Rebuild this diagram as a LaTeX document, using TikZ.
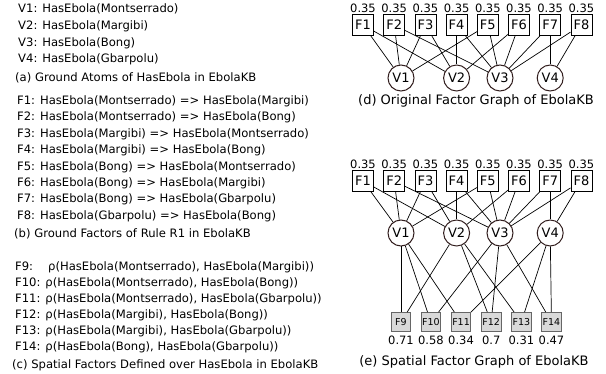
\documentclass[tikz,border=0pt]{standalone}
\usepackage{fontspec}
\setmainfont{DejaVu Sans}
\usepackage{tikz}
\usetikzlibrary{positioning}

\definecolor{atomline}{RGB}{50,30,30}

\begin{document}
\begin{tikzpicture}[x=1pt, y=-1pt,
        txt/.style={anchor=west, inner sep=0pt, font=\fontsize{11.6}{14}\selectfont},
        caption/.style={inner sep=0pt, font=\fontsize{13}{15}\selectfont},
        factor/.style={rectangle, draw=black, line width=0.8pt, minimum width=21pt, minimum height=21pt, inner sep=1pt, font=\fontsize{13}{15}\selectfont},
        atom/.style={circle, draw=atomline, line width=1pt, minimum size=26pt, inner sep=0pt, font=\fontsize{13}{15}\selectfont},
        spatial/.style={rectangle, draw=black!60, line width=0.8pt, fill=black!15, minimum width=19pt, minimum height=19pt, inner sep=1pt, font=\fontsize{9.5}{10}\selectfont},
        weight/.style={inner sep=1pt, font=\fontsize{11.5}{13}\selectfont},
        edge/.style={line width=0.7pt}
      ]
        \useasboundingbox (0,0) rectangle (606,374);

        % (a) ground atoms
        \node[txt] (a1) at (18,9)  {V1: HasEbola(Montserrado)};
        \node[txt] (a2) at (18,26) {V2: HasEbola(Margibi)};
        \node[txt] (a3) at (18,43) {V3: HasEbola(Bong)};
        \node[txt] (a4) at (18,59) {V4: HasEbola(Gbarpolu)};
        \node[txt] (acap) at (15,78) {(a) Ground Atoms of HasEbola in EbolaKB};

        % (b) ground factors of R1
        \node[txt] (b1) at (17,101) {F1: HasEbola(Montserrado) => HasEbola(Margibi)};
        \node[txt] (b2) at (17,117) {F2: HasEbola(Montserrado) => HasEbola(Bong)};
        \node[txt] (b3) at (17,134) {F3: HasEbola(Margibi) => HasEbola(Montserrado)};
        \node[txt] (b4) at (17,150) {F4: HasEbola(Margibi) => HasEbola(Bong)};
        \node[txt] (b5) at (17,167) {F5: HasEbola(Bong) => HasEbola(Montserrado)};
        \node[txt] (b6) at (17,183) {F6: HasEbola(Bong) => HasEbola(Margibi)};
        \node[txt] (b7) at (17,199) {F7: HasEbola(Bong) => HasEbola(Gbarpolu)};
        \node[txt] (b8) at (17,216) {F8: HasEbola(Gbarpolu) => HasEbola(Bong)};
        \node[txt] (bcap) at (14,234) {(b) Ground Factors of Rule R1 in EbolaKB};

        % (c) spatial factors
        \node[txt] (c9)  at (15,267) {F9:\hspace{15pt}ρ(HasEbola(Montserrado), HasEbola(Margibi))};
        \node[txt] (c10) at (15,283) {F10: ρ(HasEbola(Montserrado), HasEbola(Bong))};
        \node[txt] (c11) at (15,299) {F11: ρ(HasEbola(Montserrado), HasEbola(Gbarpolu))};
        \node[txt] (c12) at (15,315) {F12: ρ(HasEbola(Margibi), HasEbola(Bong))};
        \node[txt] (c13) at (15,331) {F13: ρ(HasEbola(Margibi), HasEbola(Gbarpolu))};
        \node[txt] (c14) at (15,347) {F14: ρ(HasEbola(Bong), HasEbola(Gbarpolu))};
        \node[txt] (ccap) at (12,365) {(c) Spatial Factors Defined over HasEbola in EbolaKB};

        % (d) original factor graph
        \node[factor] (of1) at (363,25)         [label={[weight]above:0.35}] {F1};
        \node[factor] (of2) [right=9.4pt of of1, label={[weight]above:0.35}] {F2};
        \node[factor] (of3) [right=9.4pt of of2, label={[weight]above:0.35}] {F3};
        \node[factor] (of4) [right=9.4pt of of3, label={[weight]above:0.35}] {F4};
        \node[factor] (of5) [right=9.4pt of of4, label={[weight]above:0.35}] {F5};
        \node[factor] (of6) [right=9.4pt of of5, label={[weight]above:0.35}] {F6};
        \node[factor] (of7) [right=9.4pt of of6, label={[weight]above:0.35}] {F7};
        \node[factor] (of8) [right=9.4pt of of7, label={[weight]above:0.35}] {F8};

        \node[atom] (ov1) at (401,78) {V1};
        \node[atom] (ov2) at (of4 |- ov1) {V2};
        \node[atom] (ov3) at (500,78) {V3};
        \node[atom] (ov4) at (of7 |- ov1) {V4};

        \draw[edge] (of1) -- (ov1);  \draw[edge] (of1) -- (ov2);
        \draw[edge] (of2) -- (ov1);  \draw[edge] (of2) -- (ov3);
        \draw[edge] (of3) -- (ov2);  \draw[edge] (of3) -- (ov1);
        \draw[edge] (of4) -- (ov2);  \draw[edge] (of4) -- (ov3);
        \draw[edge] (of5) -- (ov3);  \draw[edge] (of5) -- (ov1);
        \draw[edge] (of6) -- (ov3);  \draw[edge] (of6) -- (ov2);
        \draw[edge] (of7) -- (ov3);  \draw[edge] (of7) -- (ov4);
        \draw[edge] (of8) -- (ov4);  \draw[edge] (of8) -- (ov3);

        \node[caption] (dcap) at (476,101) {(d) Original Factor Graph of EbolaKB};

        % (e) spatial factor graph
        \node[factor] (sf1) at (363,181)        [label={[weight]above:0.35}] {F1};
        \node[factor] (sf2) [right=9.4pt of sf1, label={[weight]above:0.35}] {F2};
        \node[factor] (sf3) [right=9.4pt of sf2, label={[weight]above:0.35}] {F3};
        \node[factor] (sf4) [right=9.4pt of sf3, label={[weight]above:0.35}] {F4};
        \node[factor] (sf5) [right=9.4pt of sf4, label={[weight]above:0.35}] {F5};
        \node[factor] (sf6) [right=9.4pt of sf5, label={[weight]above:0.35}] {F6};
        \node[factor] (sf7) [right=9.4pt of sf6, label={[weight]above:0.35}] {F7};
        \node[factor] (sf8) [right=9.4pt of sf7, label={[weight]above:0.35}] {F8};

        \node[atom] (sv1) at (401,233) {V1};
        \node[atom] (sv2) at (sf4 |- sv1) {V2};
        \node[atom] (sv3) at (500,233) {V3};
        \node[atom] (sv4) at (sf7 |- sv1) {V4};

        \draw[edge] (sf1) -- (sv1);  \draw[edge] (sf1) -- (sv2);
        \draw[edge] (sf2) -- (sv1);  \draw[edge] (sf2) -- (sv3);
        \draw[edge] (sf3) -- (sv2);  \draw[edge] (sf3) -- (sv1);
        \draw[edge] (sf4) -- (sv2);  \draw[edge] (sf4) -- (sv3);
        \draw[edge] (sf5) -- (sv3);  \draw[edge] (sf5) -- (sv1);
        \draw[edge] (sf6) -- (sv3);  \draw[edge] (sf6) -- (sv2);
        \draw[edge] (sf7) -- (sv3);  \draw[edge] (sf7) -- (sv4);
        \draw[edge] (sf8) -- (sv4);  \draw[edge] (sf8) -- (sv3);

        \node[spatial] (sp9)  at (401,322)       [label={[weight, label distance=3pt]below:0.71}] {F9};
        \node[spatial] (sp10) [right=9.8pt of sp9,  label={[weight, label distance=3pt]below:0.58}] {F10};
        \node[spatial] (sp11) [right=9.8pt of sp10, label={[weight, label distance=3pt]below:0.34}] {F11};
        \node[spatial] (sp12) [right=9.8pt of sp11, label={[weight, label distance=3pt]below:0.7}]  {F12};
        \node[spatial] (sp13) [right=9.8pt of sp12, label={[weight, label distance=3pt]below:0.31}] {F13};
        \node[spatial] (sp14) [right=9.8pt of sp13, label={[weight, label distance=3pt]below:0.47}] {F14};

        \draw[edge] (sv1) -- (sp9);   \draw[edge] (sv2) -- (sp9);
        \draw[edge] (sv1) -- (sp10);  \draw[edge] (sv3) -- (sp10);
        \draw[edge] (sv1) -- (sp11);  \draw[edge] (sv4) -- (sp11);
        \draw[edge] (sv2) -- (sp12);  \draw[edge] (sv3) -- (sp12);
        \draw[edge] (sv2) -- (sp13);  \draw[edge] (sv4) -- (sp13);
        \draw[edge] (sv3) -- (sp14);  \draw[edge] (sv4) -- (sp14);

        \node[caption] (ecap) at (474,362) {(e) Spatial Factor Graph of EbolaKB};
      \end{tikzpicture}
\end{document}
